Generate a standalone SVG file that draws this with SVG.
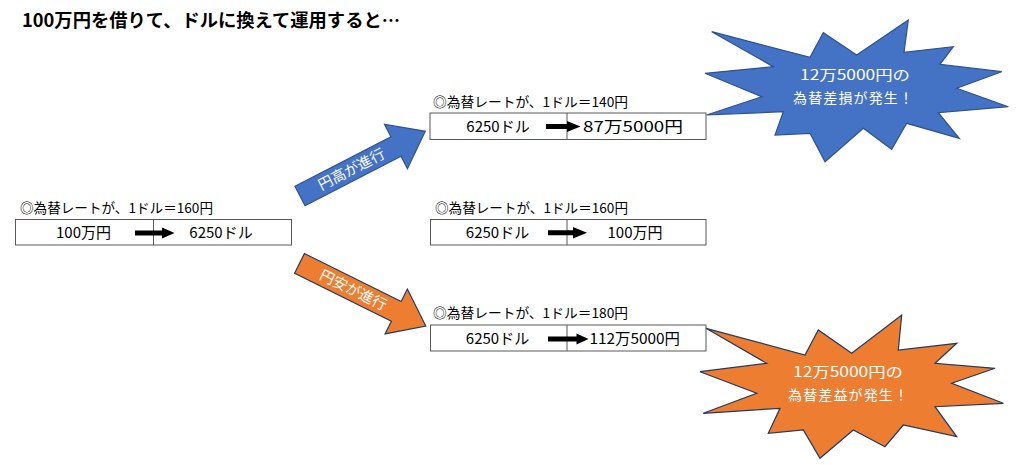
<svg xmlns="http://www.w3.org/2000/svg" width="1024" height="465" viewBox="0 0 1024 465">
<style>
text{font-family:"Noto Sans CJK JP","Noto Sans",sans-serif;fill:#000}
.title{font-size:18px;font-weight:bold}
.hdr{font-size:13.5px}
.val{font-size:15px}
.box{fill:#fff;stroke:#595959;stroke-width:1}
.div{stroke:#595959;stroke-width:1}
.wt{fill:#fff;font-size:14px}
.at{fill:#fff;font-size:14.5px}
.blue{fill:#4472C4;stroke:#2F528F;stroke-width:1.2}
.orange{fill:#ED7D31;stroke:#223A5E;stroke-width:1.2}
</style>
<defs>
<polygon id="bigArrow" points="0,-11 108,-11 108,-25 141,0 108,25 108,11 0,11"/>
</defs>
<rect width="1024" height="465" fill="#fff"/>
<text class="title" x="22" y="27" textLength="378" lengthAdjust="spacingAndGlyphs">100万円を借りて、ドルに換えて運用すると…</text>

<g id="start">
<text class="hdr" x="20" y="212.5" textLength="193" lengthAdjust="spacingAndGlyphs">◎為替レートが、1ドル＝160円</text>
<rect class="box" x="15.5" y="219.5" width="276" height="25.5"/>
<line class="div" x1="153.5" y1="219.5" x2="153.5" y2="245"/>
<text class="val" x="83.5" y="237.5" text-anchor="middle">100万円</text>
<text class="val" x="221" y="237.5" text-anchor="middle">6250ドル</text>
<polygon points="135,230.5 162,230.5 162,227.5 174.5,233 162,238.5 162,235.5 135,235.5" fill="#000"/>
</g>

<g id="high">
<text class="hdr" x="433" y="106.7" textLength="195" lengthAdjust="spacingAndGlyphs">◎為替レートが、1ドル＝140円</text>
<rect class="box" x="430" y="113" width="276" height="26.5"/>
<line class="div" x1="567" y1="113" x2="567" y2="139.5"/>
<text class="val" x="498" y="132" text-anchor="middle">6250ドル</text>
<text class="val" x="583" y="132" textLength="100" lengthAdjust="spacingAndGlyphs">87万5000円</text>
<polygon points="546,124 567,124 567,121 580.5,126.5 567,132 567,129 546,129" fill="#000"/>
</g>

<g id="same">
<text class="hdr" x="435" y="212.7" textLength="193" lengthAdjust="spacingAndGlyphs">◎為替レートが、1ドル＝160円</text>
<rect class="box" x="430.5" y="219.5" width="275.5" height="25.5"/>
<line class="div" x1="567" y1="219.5" x2="567" y2="245"/>
<text class="val" x="497.5" y="237.5" text-anchor="middle">6250ドル</text>
<text class="val" x="635" y="237.5" text-anchor="middle">100万円</text>
<polygon points="548,230.2 573,230.2 573,227 587,232.7 573,238.4 573,235.2 548,235.2" fill="#000"/>
</g>

<g id="low">
<text class="hdr" x="433" y="318" textLength="195" lengthAdjust="spacingAndGlyphs">◎為替レートが、1ドル＝180円</text>
<rect class="box" x="430.5" y="325" width="275.5" height="26"/>
<line class="div" x1="567" y1="325" x2="567" y2="351"/>
<text class="val" x="497.5" y="343.5" text-anchor="middle">6250ドル</text>
<text class="val" x="589.5" y="343.5" textLength="90.5" lengthAdjust="spacingAndGlyphs">112万5000円</text>
<polygon points="548,336.5 576.5,336.5 576.5,333.5 588.5,339 576.5,344.5 576.5,341.5 548,341.5" fill="#000"/>
</g>

<g id="connectors">
<g id="yen-up" transform="translate(300,196) rotate(-27.3)">
<use href="#bigArrow" class="blue"/>
<text class="at" x="58" y="5" text-anchor="middle">円高が進行</text>
</g>
<g id="yen-down" transform="translate(299.5,263.4) rotate(26.4)">
<use href="#bigArrow" class="orange"/>
<text class="at" x="60" y="5" text-anchor="middle">円安が進行</text>
</g>
</g>

<g id="loss">
<polygon class="blue" points="711.7,31.7 810,57.3 823.3,32.7 856.7,55 908.3,20 904,52.3 953.3,46.7 940,64.3 1001.7,71.7 956.7,88.3 1008.3,106.7 938.3,112.7 959.3,138.3 906.7,123.3 891.7,149.3 863.3,128.3 825,161.7 810,133.3 775,135 783.3,111.7 706.7,115 761.7,96.7 705,73.3 773.3,66.7"/>
<text class="wt" x="855" y="80" text-anchor="middle" textLength="110" lengthAdjust="spacingAndGlyphs">12万5000円の</text>
<text class="wt" x="853" y="102.5" text-anchor="middle" textLength="120" lengthAdjust="spacing">為替差損が発生！</text>
</g>

<g id="gain">
<polygon class="orange" points="706,328.3 805,355 818.3,330 851.7,353.3 901.7,315 898.3,350 956.7,343.3 935,363.3 995,368.3 951.7,383.3 1003.3,403.3 935,406.7 956.7,436.7 903.3,425 885,446.7 853.3,430 820,458.3 803.3,430 768.3,433.3 780,408.3 703.3,413.3 756.7,393.3 700,371.7 766.7,363.3"/>
<text class="wt" x="848" y="377" text-anchor="middle" textLength="110" lengthAdjust="spacingAndGlyphs">12万5000円の</text>
<text class="wt" x="848" y="400" text-anchor="middle" textLength="120" lengthAdjust="spacing">為替差益が発生！</text>
</g>
</svg>
